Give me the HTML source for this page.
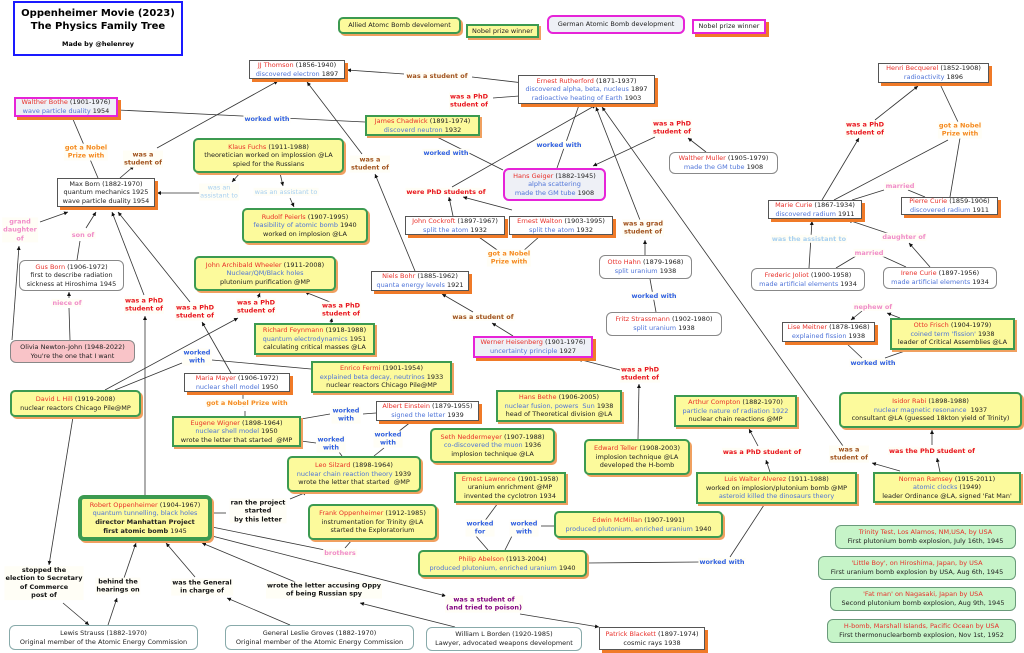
<!DOCTYPE html>
<html><head><meta charset="utf-8"><style>
body{margin:0;width:1024px;height:653px;background:#fff;position:relative;overflow:hidden;font-family:"DejaVu Sans",sans-serif}
svg{position:absolute;left:0;top:0}
.n{position:absolute;box-sizing:border-box;display:flex;flex-direction:column;justify-content:center;align-items:center;text-align:center;font:6.5px/8.6px "DejaVu Sans",sans-serif;white-space:nowrap;color:#222}
.w{background:#fff;border:1px solid #555;box-shadow:3px 3px 0 #f07a28}
.y{background:#fcfa9c;border:2.5px solid #3c9a50;border-radius:5px;box-shadow:2px 2px 0 #f0a060}
.g{background:#fff;border:1px solid #888;border-radius:6px}
.m{background:#eef0f6;border:2.5px solid #e624d8;box-shadow:3px 3px 0 #f07a28}
.gr{background:#c6f4c8;border:1px solid #6a9a7a;border-radius:6px}
.b{background:#fff;border:1px solid #8aa;border-radius:6px}
.r{color:#e8302a}.u{color:#4f74d8}
.l{position:absolute;transform:translate(-50%,-50%);font:bold 6.5px/8.4px "DejaVu Sans",sans-serif;text-align:center;white-space:nowrap;background:#fffef6;padding:0 1px}
.lo{color:#f58a1f}.lb{color:#a0521c}.lr{color:#e8141c}.lu{color:#3060e0}.lp{color:#f08cc8;font-weight:normal}.lc{color:#a8d0f0;font-weight:normal}.lk{color:#111}.lv{color:#800080}
</style></head><body>
<svg width="1024" height="653" viewBox="0 0 1024 653">
<defs><marker id="a" viewBox="0 0 10 10" refX="10" refY="5" markerWidth="5" markerHeight="5" orient="auto"><path d="M0,0L10,5L0,10z" fill="#111"/></marker></defs>
<g stroke="#333" stroke-width="0.8" fill="none">
<line x1="532" y1="84" x2="472" y2="77"/><line x1="404" y1="74" x2="347" y2="70" marker-end="url(#a)"/>
<line x1="493" y1="98" x2="532" y2="95" marker-end="url(#a)"/>
<line x1="118" y1="110" x2="365" y2="122"/>
<line x1="72" y1="117" x2="98" y2="178"/>
<line x1="120" y1="178" x2="134" y2="166" marker-end="url(#a)"/><line x1="157" y1="148" x2="278" y2="81" marker-end="url(#a)"/>
<line x1="240" y1="173" x2="232" y2="182" marker-end="url(#a)"/><line x1="200" y1="193" x2="157" y2="193" marker-end="url(#a)"/>
<line x1="280" y1="173" x2="283" y2="186" marker-end="url(#a)"/><line x1="290" y1="198" x2="294" y2="207" marker-end="url(#a)"/>
<line x1="415" y1="271" x2="375" y2="174" marker-end="url(#a)"/><line x1="362" y1="154" x2="307" y2="82" marker-end="url(#a)"/>
<line x1="435" y1="136" x2="503" y2="170"/>
<line x1="452" y1="187" x2="596" y2="105" marker-end="url(#a)"/>
<line x1="453" y1="216" x2="449" y2="197" marker-end="url(#a)"/><line x1="512" y1="210" x2="463" y2="197" marker-end="url(#a)"/>
<line x1="476" y1="235" x2="500" y2="252"/><line x1="540" y1="236" x2="522" y2="252"/>
<line x1="557" y1="168" x2="579" y2="105"/>
<line x1="706" y1="152" x2="688" y2="138" marker-end="url(#a)"/><line x1="655" y1="137" x2="593" y2="166" marker-end="url(#a)"/>
<line x1="645" y1="255" x2="645" y2="240" marker-end="url(#a)"/><line x1="640" y1="220" x2="596" y2="107" marker-end="url(#a)"/>
<line x1="650" y1="279" x2="656" y2="312"/>
<line x1="843" y1="446" x2="602" y2="107" marker-end="url(#a)"/><line x1="900" y1="471" x2="872" y2="463" marker-end="url(#a)"/>
<line x1="822" y1="200" x2="859" y2="138" marker-end="url(#a)"/><line x1="875" y1="120" x2="918" y2="86" marker-end="url(#a)"/>
<line x1="940" y1="84" x2="958" y2="122"/><line x1="960" y1="138" x2="950" y2="197"/><line x1="948" y1="140" x2="834" y2="200"/>
<line x1="852" y1="200" x2="884" y2="190"/><line x1="908" y1="190" x2="925" y2="197"/>
<line x1="809" y1="268" x2="812" y2="221" marker-end="url(#a)"/>
<line x1="930" y1="267" x2="909" y2="243" marker-end="url(#a)"/><line x1="890" y1="234" x2="848" y2="220" marker-end="url(#a)"/>
<line x1="836" y1="268" x2="856" y2="256"/><line x1="882" y1="256" x2="906" y2="267"/>
<line x1="900" y1="318" x2="887" y2="313" marker-end="url(#a)"/><line x1="862" y1="311" x2="851" y2="320" marker-end="url(#a)"/>
<line x1="845" y1="342" x2="862" y2="358"/><line x1="885" y1="358" x2="905" y2="351"/>
<line x1="513" y1="336" x2="492" y2="323" marker-end="url(#a)"/><line x1="473" y1="312" x2="442" y2="294" marker-end="url(#a)"/>
<line x1="638" y1="439" x2="639" y2="384" marker-end="url(#a)"/><line x1="620" y1="370" x2="578" y2="359" marker-end="url(#a)"/>
<line x1="770" y1="472" x2="766" y2="460" marker-end="url(#a)"/><line x1="758" y1="446" x2="749" y2="429" marker-end="url(#a)"/>
<line x1="940" y1="472" x2="937" y2="458" marker-end="url(#a)"/><line x1="932" y1="445" x2="932" y2="430" marker-end="url(#a)"/>
<line x1="764" y1="505" x2="730" y2="557"/><line x1="700" y1="562" x2="587" y2="563"/>
<line x1="498" y1="503" x2="484" y2="522"/><line x1="475" y1="535" x2="488" y2="550"/>
<line x1="554" y1="526" x2="541" y2="526"/><line x1="512" y1="536" x2="505" y2="550"/>
<line x1="331" y1="323" x2="332" y2="318" marker-end="url(#a)"/><line x1="330" y1="302" x2="305" y2="292" marker-end="url(#a)"/>
<line x1="145" y1="495" x2="145" y2="316" marker-end="url(#a)"/><line x1="144" y1="295" x2="112" y2="212" marker-end="url(#a)"/>
<line x1="231" y1="373" x2="202" y2="322" marker-end="url(#a)"/><line x1="190" y1="302" x2="118" y2="212" marker-end="url(#a)"/>
<line x1="105" y1="390" x2="238" y2="318" marker-end="url(#a)"/><line x1="258" y1="298" x2="260" y2="293" marker-end="url(#a)"/>
<line x1="115" y1="390" x2="182" y2="363"/><line x1="212" y1="360" x2="311" y2="369"/>
<line x1="12" y1="340" x2="19" y2="246" marker-end="url(#a)"/><line x1="40" y1="222" x2="68" y2="212" marker-end="url(#a)"/>
<line x1="70" y1="340" x2="69" y2="308"/><line x1="69" y1="298" x2="69" y2="292" marker-end="url(#a)"/>
<line x1="77" y1="260" x2="80" y2="241"/><line x1="86" y1="228" x2="96" y2="212" marker-end="url(#a)"/>
<line x1="243" y1="392" x2="243" y2="407"/><line x1="245" y1="411" x2="245" y2="416"/>
<line x1="301" y1="419" x2="330" y2="414"/><line x1="363" y1="414" x2="376" y2="413"/>
<line x1="301" y1="441" x2="316" y2="443"/><line x1="339" y1="452" x2="342" y2="456"/>
<line x1="412" y1="421" x2="398" y2="432"/><line x1="384" y1="448" x2="374" y2="456"/>
<line x1="212" y1="513" x2="226" y2="513"/><line x1="290" y1="499" x2="307" y2="492" marker-end="url(#a)"/>
<line x1="352" y1="540" x2="345" y2="548"/><line x1="212" y1="527" x2="325" y2="550"/>
<line x1="212" y1="536" x2="446" y2="596" marker-end="url(#a)"/><line x1="520" y1="614" x2="599" y2="627" marker-end="url(#a)"/>
<line x1="73" y1="417" x2="49" y2="565" marker-end="url(#a)"/><line x1="63" y1="603" x2="89" y2="625" marker-end="url(#a)"/>
<line x1="108" y1="625" x2="117" y2="598" marker-end="url(#a)"/><line x1="124" y1="578" x2="136" y2="543" marker-end="url(#a)"/>
<line x1="290" y1="625" x2="227" y2="598" marker-end="url(#a)"/><line x1="195" y1="577" x2="166" y2="543" marker-end="url(#a)"/>
<line x1="455" y1="627" x2="360" y2="603" marker-end="url(#a)"/><line x1="300" y1="584" x2="202" y2="543" marker-end="url(#a)"/>
</g></svg>

<div style="position:absolute;left:13px;top:1px;width:170px;height:55px;box-sizing:border-box;border:2px solid #1a1aff;background:#fff;text-align:center;font-family:'DejaVu Sans',sans-serif;font-weight:bold">
<div style="font-size:10px;line-height:13px;margin-top:4px">Oppenheimer Movie (2023)<br>The Physics Family Tree</div>
<div style="font-size:6.5px;margin-top:7px">Made by @helenrey</div></div>

<div class="n y" style="left:338px;top:17px;width:123px;height:17px">Allied Atomc Bomb develoment</div>
<div class="n y" style="left:466px;top:24px;width:73px;height:14px;border-radius:0">Nobel prize winner</div>
<div class="n m" style="left:547px;top:15px;width:138px;height:19px;border-radius:6px;box-shadow:none">German Atomic Bomb development</div>
<div class="n m" style="left:692px;top:19px;width:74px;height:15px;background:#fff">Nobel prize winner</div>

<div class="n w" style="left:249px;top:60px;width:96px;height:19px"><div><span class="r">JJ Thomson</span> (1856-1940)</div><div><span class="u">discovered electron</span> 1897</div></div>
<div class="n m" style="left:14px;top:97px;width:104px;height:20px"><div><span class="r">Walther Bothe</span> (1901-1976)</div><div><span class="u">wave particle duality</span> 1954</div></div>
<div class="n y" style="left:365px;top:115px;width:115px;height:21px;border-radius:0"><div><span class="r">James Chadwick</span> (1891-1974)</div><div><span class="u">discoverd neutron</span> 1932</div></div>
<div class="n y" style="left:193px;top:138px;width:151px;height:35px"><div><span class="r">Klaus Fuchs</span> (1911-1988)</div><div>theoretician worked on implossion @LA</div><div>spied for the Russians</div></div>
<div class="n w" style="left:57px;top:178px;width:98px;height:29px"><div>Max Born (1882-1970)</div><div>quantum mechanics 1925</div><div>wave particle duality 1954</div></div>
<div class="n y" style="left:242px;top:208px;width:126px;height:35px"><div><span class="r">Rudolf Peierls</span> (1907-1995)</div><div><span class="u">feasibility of atomic bomb</span> 1940</div><div>worked on implosion @LA</div></div>
<div class="n g" style="left:19px;top:260px;width:105px;height:31px"><div><span class="r">Gus Born</span> (1906-1972)</div><div>first to describe radiation</div><div>sickness at Hiroshima 1945</div></div>
<div class="n y" style="left:194px;top:256px;width:142px;height:35px"><div><span class="r">John Archibald Wheeler</span> (1911-2008)</div><div><span class="u">Nuclear/QM/Black holes</span></div><div>plutonium purification @MP</div></div>
<div class="n w" style="left:371px;top:271px;width:98px;height:20px"><div><span class="r">Niels Bohr</span> (1885-1962)</div><div><span class="u">quanta energy levels</span> 1921</div></div>
<div class="n w" style="left:405px;top:216px;width:100px;height:19px"><div><span class="r">John Cockroft</span> (1897-1967)</div><div><span class="u">split the atom</span> 1932</div></div>
<div class="n w" style="left:509px;top:216px;width:104px;height:19px"><div><span class="r">Ernest Walton</span> (1903-1995)</div><div><span class="u">split the atom</span> 1932</div></div>
<div class="n m" style="left:503px;top:168px;width:103px;height:33px;border-radius:6px;box-shadow:none"><div><span class="r">Hans Geiger</span> (1882-1945)</div><div><span class="u">alpha scattering</span></div><div><span class="u">made the GM tube</span> 1908</div></div>
<div class="n w" style="left:518px;top:75px;width:137px;height:29px"><div><span class="r">Ernest Rutherford</span> (1871-1937)</div><div><span class="u">discovered alpha, beta, nucleus</span> 1897</div><div><span class="u">radioactive heating of Earth</span> 1903</div></div>
<div class="n g" style="left:669px;top:152px;width:109px;height:22px"><div><span class="r">Walther Muller</span> (1905-1979)</div><div><span class="u">made the GM tube</span> 1908</div></div>
<div class="n w" style="left:878px;top:63px;width:111px;height:20px"><div><span class="r">Henri Becquerel</span> (1852-1908)</div><div><span class="u">radioactivity</span> 1896</div></div>
<div class="n g" style="left:599px;top:255px;width:93px;height:24px"><div><span class="r">Otto Hahn</span> (1879-1968)</div><div><span class="u">split uranium</span> 1938</div></div>
<div class="n g" style="left:606px;top:312px;width:116px;height:24px"><div><span class="r">Fritz Strassmann</span> (1902-1980)</div><div><span class="u">split uranium</span> 1938</div></div>
<div class="n w" style="left:768px;top:200px;width:94px;height:19px"><div><span class="r">Marie Curie</span> (1867-1934)</div><div><span class="u">discovered radium</span> 1911</div></div>
<div class="n w" style="left:901px;top:197px;width:97px;height:18px"><div><span class="r">Pierre Curie</span> (1859-1906)</div><div><span class="u">discovered radium</span> 1911</div></div>
<div class="n g" style="left:751px;top:268px;width:114px;height:23px"><div><span class="r">Frederic Joliot</span> (1900-1958)</div><div><span class="u">made artificial elements</span> 1934</div></div>
<div class="n g" style="left:883px;top:267px;width:114px;height:22px"><div><span class="r">Irene Curie</span> (1897-1956)</div><div><span class="u">made artificial elements</span> 1934</div></div>
<div class="n w" style="left:782px;top:322px;width:93px;height:20px"><div><span class="r">Lise Meitner</span> (1878-1968)</div><div><span class="u">explained fission</span> 1938</div></div>
<div class="n y" style="left:890px;top:318px;width:125px;height:32px;border-radius:0"><div><span class="r">Otto Frisch</span> (1904-1979)</div><div><span class="u">coined term 'fission'</span> 1938</div><div>leader of Critical Assemblies @LA</div></div>
<div class="n y" style="left:839px;top:392px;width:183px;height:36px"><div><span class="r">Isidor Rabi</span> (1898-1988)</div><div><span class="u">nuclear magnetic resonance</span>&nbsp; 1937</div><div>consultant @LA (guessed 18kton yield of Trinity)</div></div>
<div class="n y" style="left:873px;top:472px;width:148px;height:31px;border-radius:0"><div><span class="r">Norman Ramsey</span> (1915-2011)</div><div><span class="u">atomic clocks</span> (1949)</div><div>leader Ordinance @LA, signed 'Fat Man'</div></div>
<div class="n y" style="left:696px;top:472px;width:161px;height:32px;border-radius:0"><div><span class="r">Luis Walter Alverez</span> (1911-1988)</div><div>worked on implosion/plutonium bomb @MP</div><div><span class="u">asteroid killed the dinosaurs theory</span></div></div>
<div class="n y" style="left:674px;top:395px;width:123px;height:32px;border-radius:0"><div><span class="r">Arthur Compton</span> (1882-1970)</div><div><span class="u">particle nature of radiation 1922</span></div><div>nuclear chain reactions @MP</div></div>
<div class="n y" style="left:584px;top:439px;width:106px;height:36px"><div><span class="r">Edward Teller</span> (1908-2003)</div><div>implosion technique @LA</div><div>developed the H-bomb</div></div>
<div class="n y" style="left:496px;top:390px;width:126px;height:32px;border-radius:0"><div><span class="r">Hans Bethe</span> (1906-2005)</div><div><span class="u">nuclear fusion, powers&nbsp; Sun</span> 1938</div><div>head of Theoretical division @LA</div></div>
<div class="n y" style="left:430px;top:428px;width:125px;height:35px"><div><span class="r">Seth Neddermeyer</span> (1907-1988)</div><div><span class="u">co-discovered the muon</span> 1936</div><div>implosion technique @LA</div></div>
<div class="n m" style="left:473px;top:336px;width:120px;height:22px"><div><span class="r">Werner Heisenberg</span> (1901-1976)</div><div><span class="u">uncertainty principle</span> 1927</div></div>
<div class="n w" style="left:376px;top:401px;width:103px;height:20px"><div><span class="r">Albert Einstein</span> (1879-1955)</div><div><span class="u">signed the letter</span> 1939</div></div>
<div class="n y" style="left:172px;top:416px;width:129px;height:31px;border-radius:0"><div><span class="r">Eugene Wigner</span> (1898-1964)</div><div><span class="u">nuclear shell model</span> 1950</div><div>wrote the letter that started&nbsp; @MP</div></div>
<div class="n w" style="left:184px;top:373px;width:106px;height:19px"><div><span class="r">Maria Mayer</span> (1906-1972)</div><div><span class="u">nuclear shell model</span> 1950</div></div>
<div class="n y" style="left:254px;top:323px;width:121px;height:32px;border-radius:0"><div><span class="r">Richard Feynmann</span> (1918-1988)</div><div><span class="u">quantum electrodynamics</span> 1951</div><div>calculating critical masses @LA</div></div>
<div class="n y" style="left:311px;top:361px;width:141px;height:32px;border-radius:0"><div><span class="r">Enrico Fermi</span> (1901-1954)</div><div><span class="u">explained beta decay, neutrinos</span> 1933</div><div>nuclear reactors Chicago Pile@MP</div></div>
<div class="n y" style="left:10px;top:390px;width:131px;height:27px"><div><span class="r">David L Hill</span> (1919-2008)</div><div>nuclear reactors Chicago Pile@MP</div></div>
<div class="n g" style="left:10px;top:340px;width:125px;height:23px;background:#f9c4c8"><div>Olivia Newton-John (1948-2022)</div><div>You're the one that I want</div></div>
<div class="n y" style="left:287px;top:456px;width:134px;height:36px"><div><span class="r">Leo Silzard</span> (1898-1964)</div><div><span class="u">nuclear chain reaction theory</span> 1939</div><div>wrote the letter that started&nbsp; @MP</div></div>
<div class="n y" style="left:78px;top:495px;width:134px;height:46px;border-width:4px;border-radius:6px"><div><span class="r">Robert Oppenheimer</span> (1904-1967)</div><div><span class="u">quantum tunnelling, black holes</span></div><div><b>director Manhattan Project</b></div><div><b>first atomic bomb</b> 1945</div></div>
<div class="n y" style="left:308px;top:504px;width:129px;height:36px"><div><span class="r">Frank Oppenheimer</span> (1912-1985)</div><div>instrumentation for Trinity @LA</div><div>started the Exploratorium</div></div>
<div class="n y" style="left:454px;top:472px;width:112px;height:31px;border-radius:0"><div><span class="r">Ernest Lawrence</span> (1901-1958)</div><div>uranium enrichment @MP</div><div>invented the cyclotron 1934</div></div>
<div class="n y" style="left:554px;top:511px;width:169px;height:27px"><div><span class="r">Edwin McMillan</span> (1907-1991)</div><div><span class="u">produced plutonium, enriched uranium</span> 1940</div></div>
<div class="n y" style="left:418px;top:550px;width:169px;height:27px"><div><span class="r">Philip Abelson</span> (1913-2004)</div><div><span class="u">produced plutonium, enriched uranium</span> 1940</div></div>
<div class="n b" style="left:9px;top:625px;width:189px;height:25px"><div>Lewis Strauss (1882-1970)</div><div>Original member of the Atomic Energy Commission</div></div>
<div class="n b" style="left:225px;top:625px;width:189px;height:25px"><div>General Leslie Groves (1882-1970)</div><div>Original member of the Atomic Energy Commission</div></div>
<div class="n b" style="left:426px;top:627px;width:156px;height:24px"><div>William L Borden (1920-1985)</div><div>Lawyer, advocated weapons development</div></div>
<div class="n w" style="left:599px;top:627px;width:106px;height:23px"><div><span class="r">Patrick Blackett</span> (1897-1974)</div><div>cosmic rays 1938</div></div>
<div class="n gr" style="left:835px;top:525px;width:181px;height:24px"><div><span class="r">Trinity Test, Los Alamos, NM,USA, by USA</span></div><div>First plutonium bomb explosion, July 16th, 1945</div></div>
<div class="n gr" style="left:818px;top:556px;width:198px;height:24px"><div><span class="r">'Little Boy', on Hiroshima, Japan, by USA</span></div><div>First uranium bomb explosion by USA, Aug 6th, 1945</div></div>
<div class="n gr" style="left:830px;top:587px;width:186px;height:24px"><div><span class="r">'Fat man' on Nagasaki, Japan by USA</span></div><div>Second plutonium bomb explosion, Aug 9th, 1945</div></div>
<div class="n gr" style="left:827px;top:619px;width:189px;height:24px"><div><span class="r">H-bomb, Marshall Islands, Pacific Ocean by USA</span></div><div>First thermonuclearbomb explosion, Nov 1st, 1952</div></div>

<div class="l lb" style="left:437px;top:76px">was a student of</div>
<div class="l lr" style="left:469px;top:101px">was a PhD<br>student of</div>
<div class="l lu" style="left:267px;top:119px">worked with</div>
<div class="l lo" style="left:86px;top:152px">got a Nobel<br>Prize with</div>
<div class="l lb" style="left:143px;top:159px">was a<br>student of</div>
<div class="l lc" style="left:219px;top:192px">was an<br>assistant to</div>
<div class="l lc" style="left:286px;top:192px">was an assistant to</div>
<div class="l lb" style="left:370px;top:164px">was a<br>student of</div>
<div class="l lu" style="left:446px;top:153px">worked with</div>
<div class="l lr" style="left:446px;top:192px">were PhD students of</div>
<div class="l lp" style="left:20px;top:230px;font-weight:bold">grand<br>daughter<br>of</div>
<div class="l lp" style="left:83px;top:235px;font-weight:bold">son of</div>
<div class="l lp" style="left:67px;top:303px;font-weight:bold">niece of</div>
<div class="l lr" style="left:144px;top:305px">was a PhD<br>student of</div>
<div class="l lr" style="left:195px;top:312px">was a PhD<br>student of</div>
<div class="l lr" style="left:256px;top:307px">was a PhD<br>student of</div>
<div class="l lr" style="left:341px;top:310px">was a PhD<br>student of</div>
<div class="l lo" style="left:509px;top:258px">got a Nobel<br>Prize with</div>
<div class="l lr" style="left:672px;top:128px">was a PhD<br>student of</div>
<div class="l lu" style="left:559px;top:145px">worked with</div>
<div class="l lr" style="left:865px;top:129px">was a PhD<br>student of</div>
<div class="l lo" style="left:960px;top:130px">got a Nobel<br>Prize with</div>
<div class="l lp" style="left:900px;top:186px;font-weight:bold">married</div>
<div class="l lc" style="left:809px;top:239px;font-weight:bold">was the assistant to</div>
<div class="l lp" style="left:904px;top:237px;font-weight:bold">daughter of</div>
<div class="l lp" style="left:869px;top:253px;font-weight:bold">married</div>
<div class="l lb" style="left:643px;top:228px">was a grad<br>student of</div>
<div class="l lu" style="left:654px;top:296px">worked with</div>
<div class="l lp" style="left:873px;top:307px;font-weight:bold">nephew of</div>
<div class="l lu" style="left:873px;top:363px">worked with</div>
<div class="l lb" style="left:483px;top:317px">was a student of</div>
<div class="l lr" style="left:640px;top:374px">was a PhD<br>student of</div>
<div class="l lr" style="left:762px;top:452px">was a PhD student of</div>
<div class="l lb" style="left:849px;top:454px">was a<br>student of</div>
<div class="l lr" style="left:932px;top:451px">was the PhD student of</div>
<div class="l lu" style="left:722px;top:562px">worked with</div>
<div class="l lu" style="left:197px;top:357px">worked<br>with</div>
<div class="l lo" style="left:247px;top:403px">got a Nobel Prize with</div>
<div class="l lu" style="left:346px;top:415px">worked<br>with</div>
<div class="l lu" style="left:331px;top:444px">worked<br>with</div>
<div class="l lu" style="left:388px;top:439px">worked<br>with</div>
<div class="l lk" style="left:258px;top:511px">ran the project<br>started<br>by this letter</div>
<div class="l lp" style="left:340px;top:553px;font-weight:bold">brothers</div>
<div class="l lk" style="left:44px;top:583px">stopped the<br>election to Secretary<br>of Commerce<br>post of</div>
<div class="l lk" style="left:118px;top:586px">behind the<br>hearings on</div>
<div class="l lk" style="left:202px;top:587px">was the General<br>in charge of</div>
<div class="l lk" style="left:324px;top:590px">wrote the letter accusing Oppy<br>of being Russian spy</div>
<div class="l lv" style="left:484px;top:604px">was a student of<br>(and tried to poison)</div>
<div class="l lu" style="left:480px;top:528px">worked<br>for</div>
<div class="l lu" style="left:524px;top:528px">worked<br>with</div>
</body></html>
